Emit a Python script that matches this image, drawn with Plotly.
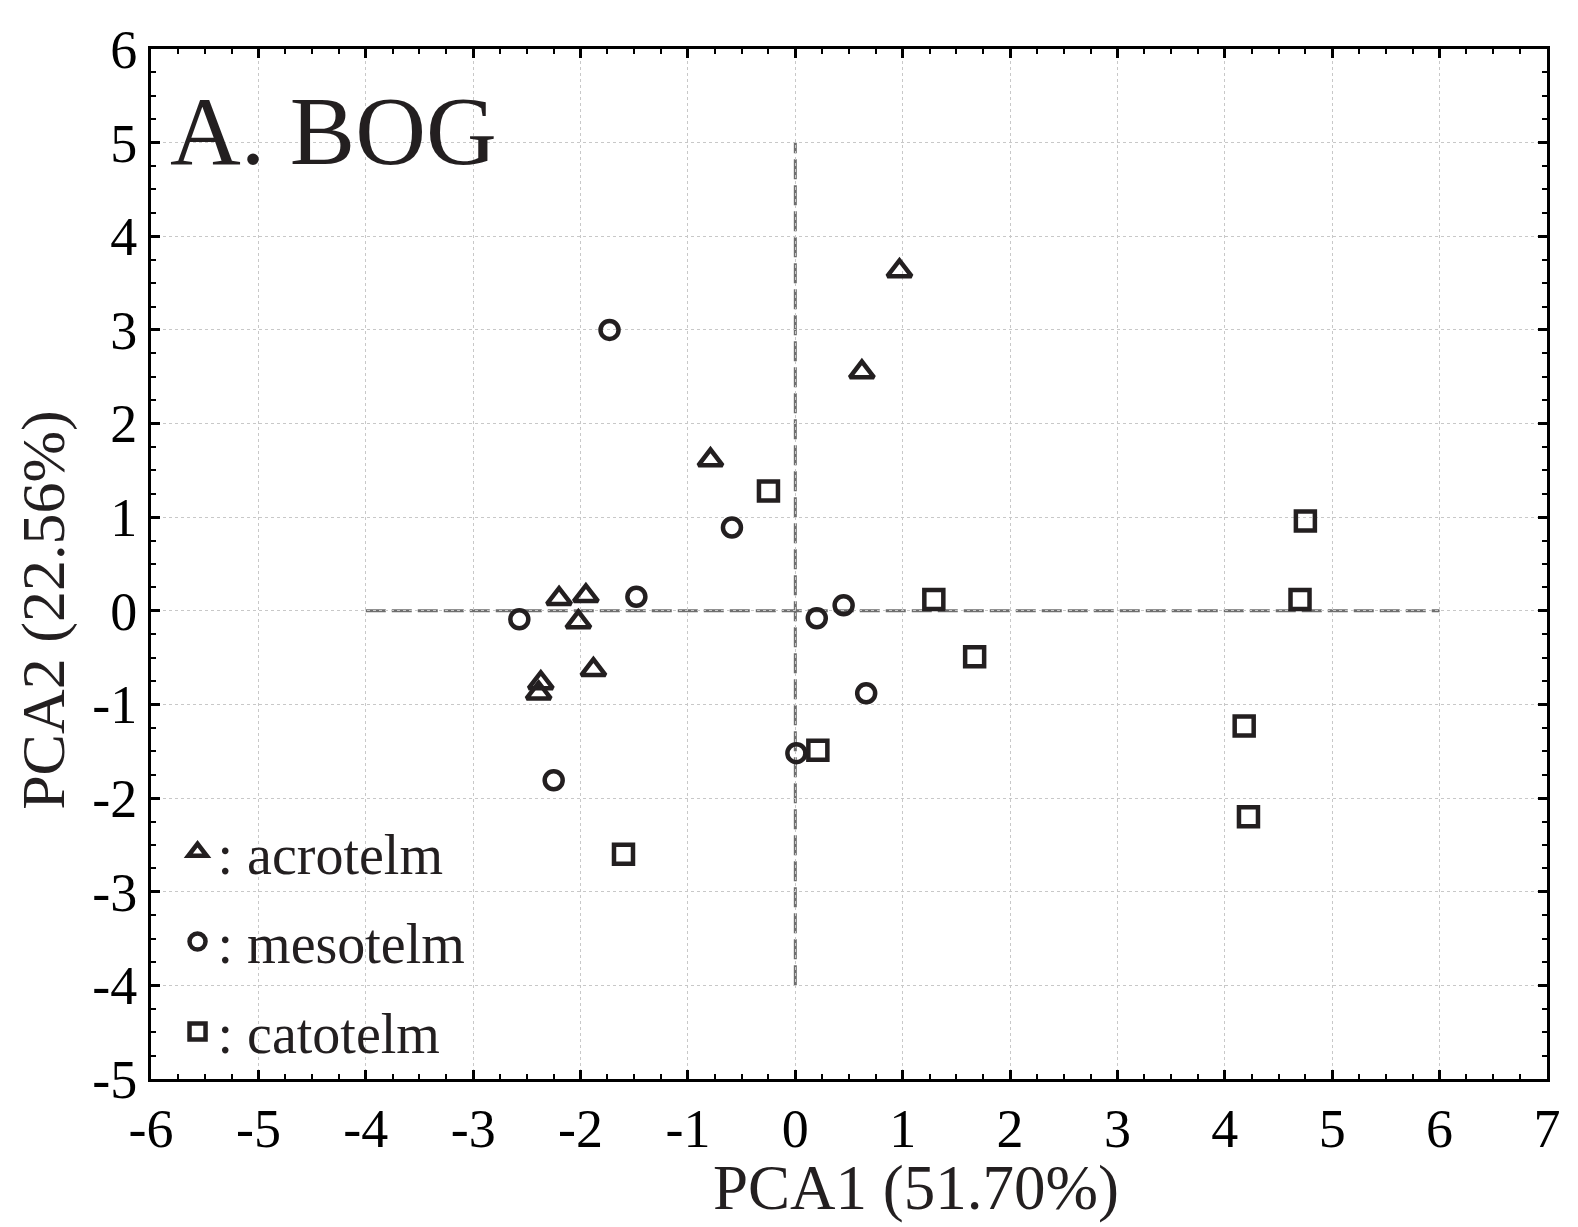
"""
PCA scatter of bog peat layers (acrotelm / mesotelm / catotelm).
"""
import plotly.graph_objects as go

# Data
acro_x = [0.97, 0.62, -0.79, -2.20, -1.95, -2.02, -1.88, -2.37, -2.39]
acro_y = [3.63, 2.55, 1.61, 0.13, 0.16, -0.12, -0.63, -0.77, -0.88]

meso_x = [-1.73, -0.59, -1.48, -2.57, 0.20, 0.45, 0.66, 0.01, -2.25]
meso_y = [3.00, 0.89, 0.15, -0.09, -0.08, 0.06, -0.88, -1.52, -1.81]

cato_x = [-0.25, 1.29, 1.67, 0.21, -1.60, 4.75, 4.70, 4.18, 4.22]
cato_y = [1.28, 0.12, -0.49, -1.49, -2.60, 0.96, 0.12, -1.23, -2.20]

groups = [": acrotelm", ": mesotelm", ": catotelm"]
x_ticks = list(range(-6, 8))
y_ticks = list(range(-5, 7))

INK = "#231f20"
FONT = "Liberation Serif"

fig = go.Figure()

series = [
    (acro_x, acro_y, "triangle-up-open", 21),
    (meso_x, meso_y, "circle-open", 18),
    (cato_x, cato_y, "square-open", 19),
]
for i, (xs, ys, sym, size) in enumerate(series):
    fig.add_trace(go.Scatter(
        x=xs, y=ys, mode="markers", name=groups[i],
        legendgroup=f"g{i}",
        marker=dict(symbol=sym, size=size, color=INK,
                    line=dict(color=INK, width=4.5)),
    ))

# dashed reference axes through the origin
dash_line = dict(color="#6e6e6e", width=3, dash="20px,6px")
fig.add_shape(type="line", x0=-4, x1=6, y0=0, y1=0, layer="below", line=dash_line)
fig.add_shape(type="line", x0=0, x1=0, y0=-4, y1=5, layer="below", line=dash_line)

axis_common = dict(
    showline=True, linecolor="black", linewidth=3, mirror="allticks",
    ticks="inside", ticklen=9, tickwidth=2.5, tickcolor="black",
    showgrid=True, gridcolor="#c8c8c8", gridwidth=1, griddash="3px,3px",
    zeroline=False,
    tickfont=dict(family=FONT, size=54, color="black"),
    minor=dict(dtick=0.25, ticks="inside", ticklen=5, tickwidth=2,
               tickcolor="black", showgrid=False),
)

fig.update_xaxes(range=[-6, 7], tickvals=x_ticks,
                 ticktext=[str(v) for v in x_ticks], **axis_common)
fig.update_yaxes(range=[-5, 6], tickvals=y_ticks,
                 ticktext=[str(v) for v in y_ticks], **axis_common)

fig.add_annotation(text="A. BOG", xref="paper", yref="paper",
                   x=0.012, y=0.92, xanchor="left", yanchor="middle",
                   showarrow=False,
                   font=dict(family=FONT, size=98, color=INK))
fig.add_annotation(text="PCA1 (51.70%)", xref="paper", yref="paper",
                   x=0.548, y=-0.106, xanchor="center", yanchor="middle",
                   showarrow=False,
                   font=dict(family=FONT, size=63, color=INK))
fig.add_annotation(text="PCA2 (22.56%)", xref="paper", yref="paper",
                   x=-0.077, y=0.455, xanchor="center", yanchor="middle",
                   showarrow=False, textangle=-90,
                   font=dict(family=FONT, size=62, color=INK))

# page body adds a small margin, so the figure is shrunk to match
fig.update_layout(
    width=1570, height=1219,
    margin=dict(l=143, r=31, t=32, b=148),
    plot_bgcolor="white", paper_bgcolor="white",
    showlegend=True,
    legend=dict(x=0.019, y=0.004, xanchor="left", yanchor="bottom",
                bgcolor="rgba(0,0,0,0)", tracegroupgap=14,
                font=dict(family=FONT, size=56, color=INK),
                itemsizing="trace"),
)

fig.write_html("out.html")
